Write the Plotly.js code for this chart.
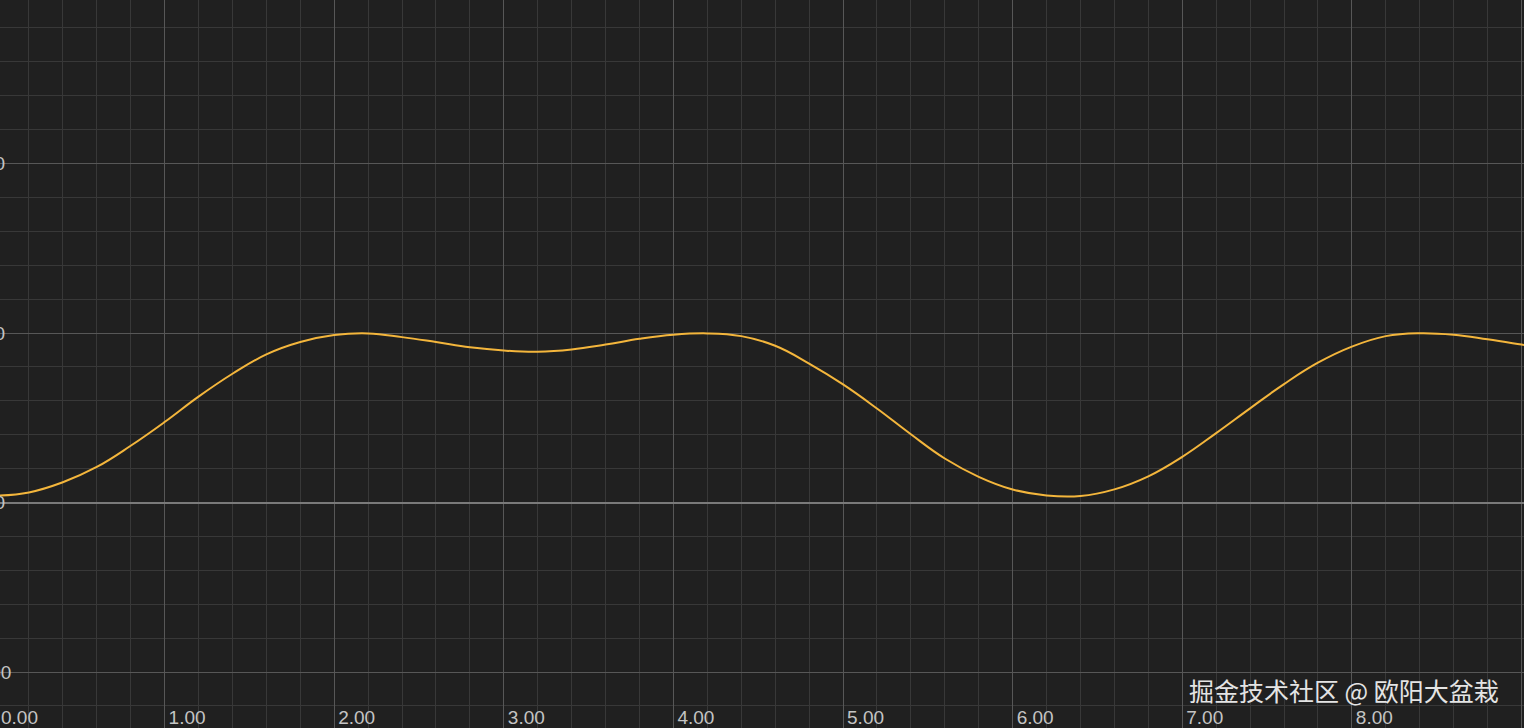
<!DOCTYPE html>
<html>
<head>
<meta charset="utf-8">
<script src="https://cdn.plot.ly/plotly-3.0.1.min.js"></script>
<style>html,body{margin:0;padding:0;background:#202020;overflow:hidden;}#chart{width:1524px;height:728px;}</style>
</head>
<body>
<div id="chart"></div>
<script>
// Curve samples (x step 0.2)
const xValues = [-0.2, 0.0, 0.2, 0.4, 0.6, 0.8, 1.0, 1.2, 1.4, 1.6, 1.8, 2.0, 2.2, 2.4, 2.6, 2.8, 3.0, 3.2, 3.4, 3.6, 3.8, 4.0, 4.2, 4.4, 4.6, 4.8, 5.0, 5.2, 5.4, 5.6, 5.8, 6.0, 6.2, 6.4, 6.6, 6.8, 7.0, 7.2, 7.4, 7.6, 7.8, 8.0, 8.2, 8.4, 8.6, 8.8, 9.0, 9.2];
const yValues = [0.04, 0.04, 0.06, 0.12, 0.21, 0.335, 0.475, 0.625, 0.76, 0.874, 0.947, 0.988, 0.998, 0.976, 0.947, 0.916, 0.897, 0.89, 0.903, 0.932, 0.966, 0.99, 0.998, 0.982, 0.925, 0.82, 0.697, 0.555, 0.403, 0.26, 0.152, 0.077, 0.042, 0.039, 0.078, 0.155, 0.27, 0.41, 0.556, 0.699, 0.825, 0.92, 0.982, 0.999, 0.99, 0.963, 0.932, 0.90];
const xTickVals = [0, 1, 2, 3, 4, 5, 6, 7, 8, 9];
const xTickText = ["0.00", "1.00", "2.00", "3.00", "4.00", "5.00", "6.00", "7.00", "8.00", "9.00"];
const yTickVals = [-1, 0, 1, 2];
const yTickText = ["-1.00", "0.00", "1.00", "2.00"];
const watermark = "掘金技术社区 @ 欧阳大盆栽";

const trace = {
  x: xValues, y: yValues, type: 'scatter', mode: 'lines',
  line: {color: '#f4b63c', width: 2, shape: 'spline', smoothing: 1.2},
  hoverinfo: 'skip'
};

const labelFont = {family: 'Liberation Sans, Arial, sans-serif', size: 19, color: '#c4c4c4'};

const layout = {
  width: 1524, height: 728,
  margin: {l: 0, r: 0, t: 0, b: 0, pad: 0},
  paper_bgcolor: '#202020', plot_bgcolor: '#202020',
  showlegend: false,
  font: labelFont,
  xaxis: {
    range: [0.0295, 9.015], tickvals: xTickVals, ticktext: xTickText,
    showgrid: true, gridcolor: '#575757', gridwidth: 1,
    minor: {dtick: 0.2, showgrid: true, gridcolor: '#383838', gridwidth: 1},
    zeroline: true, zerolinecolor: '#777777', zerolinewidth: 2,
    ticks: '', ticklabelposition: 'inside right', ticklabelshift: 4, ticklabelstandoff: -6,
    showline: false, tickfont: labelFont, fixedrange: true
  },
  yaxis: {
    range: [-1.33, 2.965], tickvals: yTickVals, ticktext: yTickText,
    showgrid: true, gridcolor: '#575757', gridwidth: 1,
    minor: {dtick: 0.2, showgrid: true, gridcolor: '#383838', gridwidth: 1},
    zeroline: true, zerolinecolor: '#7a7a7a', zerolinewidth: 2,
    ticks: '', ticklabelposition: 'inside', ticklabelstandoff: -35, showline: false,
    tickfont: labelFont, fixedrange: true
  },
  annotations: [
    {
      // first x tick label: its gridline sits just left of the visible area
      text: xTickText[0], xref: 'paper', yref: 'paper', x: 0, y: 0,
      xanchor: 'left', yanchor: 'bottom', yshift: -2, xshift: -1, showarrow: false,
      font: labelFont
    },
    {
      text: watermark, xref: 'paper', yref: 'paper', x: 1, y: 0.05,
      xanchor: 'right', yanchor: 'middle', xshift: -23, yshift: 2, showarrow: false,
      font: {family: 'Noto Sans CJK SC, sans-serif', size: 25, color: '#e4e4e4'}
    }
  ]
};

Plotly.newPlot('chart', [trace], layout, {displayModeBar: false, staticPlot: true});
</script>
</body>
</html>
